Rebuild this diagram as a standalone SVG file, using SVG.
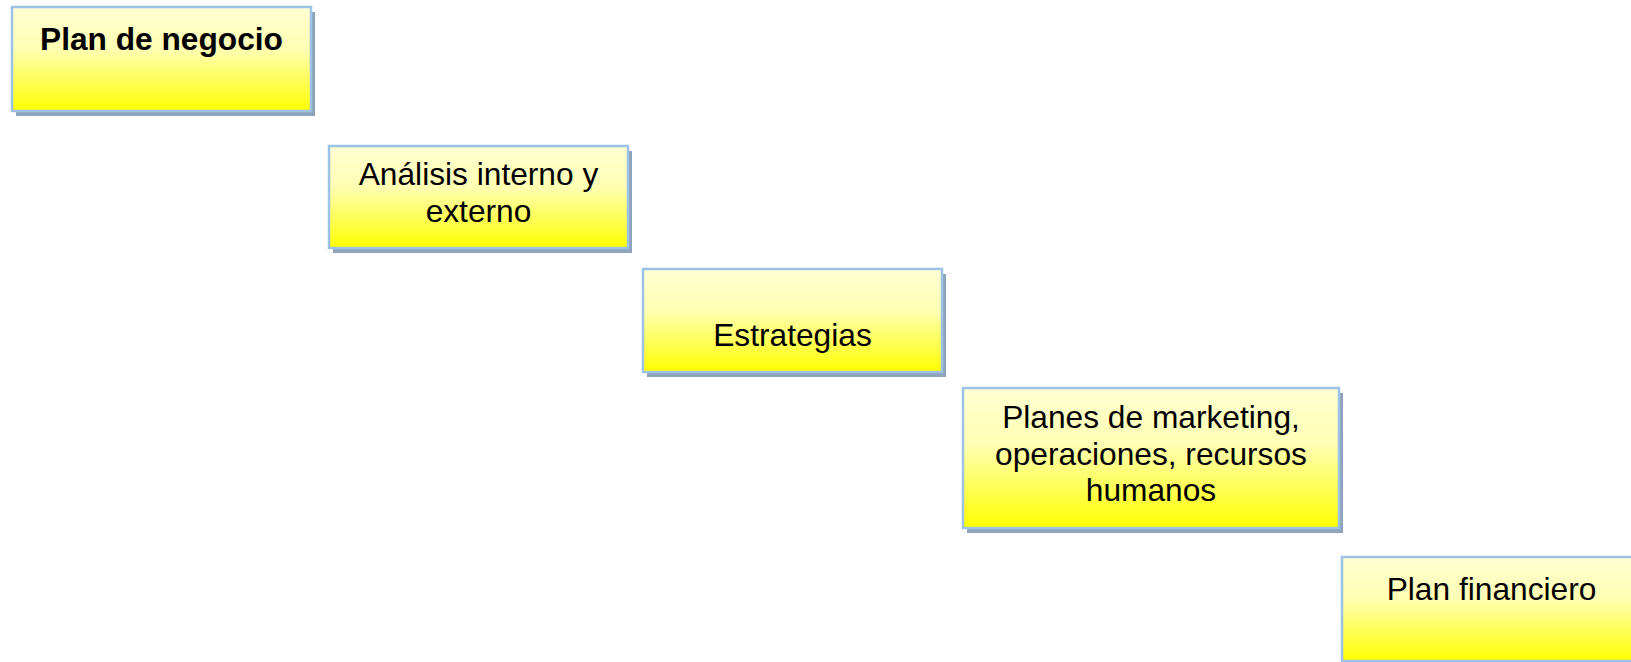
<svg xmlns="http://www.w3.org/2000/svg" width="1631" height="662" viewBox="0 0 1631 662">
<defs>
<linearGradient id="g" x1="0" y1="0" x2="0" y2="1">
<stop offset="0" stop-color="#FFFFD2"/>
<stop offset="0.4" stop-color="#FFFFB4"/>
<stop offset="1" stop-color="#FFFF00"/>
</linearGradient>
<style>
.sh{fill:#8EA4BC}
.bx{fill:url(#g);stroke:#9CC2E5;stroke-width:2.5}
text{font-family:"Liberation Sans",Arial,sans-serif;font-size:31.7px;fill:#000;text-anchor:middle}
.b{font-weight:bold}
</style>
</defs>
<rect width="1631" height="662" fill="#fff"/>
<g id="n1">
<rect class="sh" x="16" y="12" width="299" height="104"/>
<rect class="bx" x="12" y="7" width="299" height="104"/>
<text class="b" x="161.5" y="50">Plan de negocio</text>
</g>
<g id="n2">
<rect class="sh" x="333" y="151" width="299" height="102"/>
<rect class="bx" x="329" y="146" width="299" height="102"/>
<text x="478.5" y="185">Análisis interno y</text>
<text x="478.5" y="222">externo</text>
</g>
<g id="n3">
<rect class="sh" x="647" y="274" width="299" height="103"/>
<rect class="bx" x="643" y="269" width="299" height="103"/>
<text x="792.5" y="346">Estrategias</text>
</g>
<g id="n4">
<rect class="sh" x="967" y="393" width="376" height="140"/>
<rect class="bx" x="963" y="388" width="376" height="140"/>
<text x="1151" y="428">Planes de marketing,</text>
<text x="1151" y="465">operaciones, recursos</text>
<text x="1151" y="501">humanos</text>
</g>
<g id="n5">
<rect class="sh" x="1346" y="562" width="299" height="104"/>
<rect class="bx" x="1342" y="557" width="299" height="104"/>
<text x="1491.5" y="600">Plan financiero</text>
</g>
<g id="connectors"/>
</svg>
